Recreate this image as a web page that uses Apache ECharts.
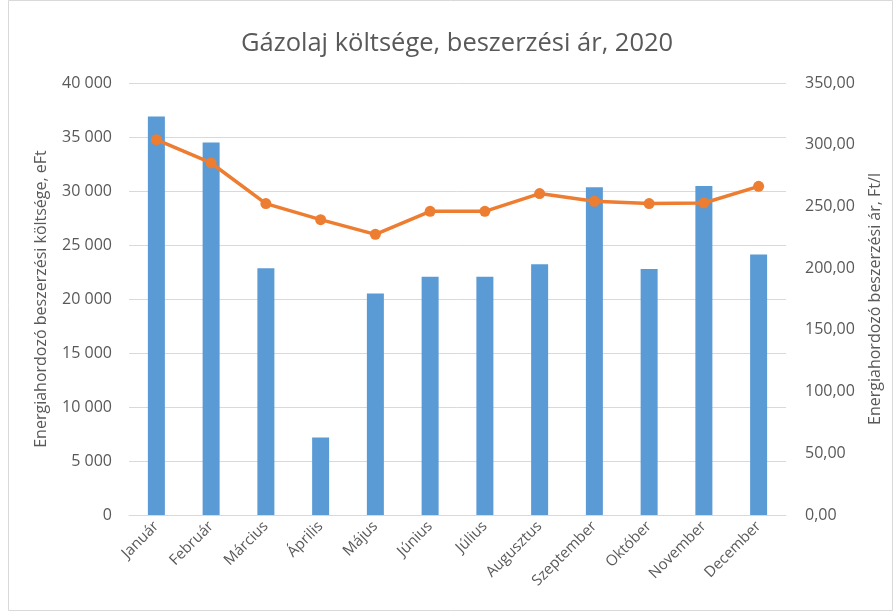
<!DOCTYPE html>
<html>
<head>
<meta charset="utf-8">
<script src="https://cdn.jsdelivr.net/npm/echarts@6/dist/echarts.min.js"></script>
<style>
  html, body { margin: 0; padding: 0; background: #fff; }
  #chart { width: 894px; height: 612px; }
</style>
</head>
<body>
<div id="chart"></div>
<script>
// honapok
let honapok = ['Január','Február','Március','Április','Május','Június','Július','Augusztus','Szeptember','Október','November','December']
// koltseg, eFt (bal tengely)
let koltseg = [36900, 34480, 22850, 7170, 20500, 22070, 22070, 23210, 30340, 22780, 30460, 24110]
// beszerzesi ar, Ft/l (jobb tengely)
let ar = [304.1, 285.2, 252.3, 239.3, 227.4, 246.0, 246.0, 260.4, 254.2, 252.3, 252.8, 266.3]

let betu = '"Open Sans", "Noto Sans", sans-serif'
let szurke = '#595959'

let chart = echarts.init(document.getElementById('chart'))

function ezres(v) {
  return String(v).replace(/\B(?=(\d{3})+(?!\d))/g, ' ')
}

let option = {
  animation: false,
  textStyle: { fontFamily: betu },
  title: {
    text: 'Gázolaj költsége, beszerzési ár, 2020',
    left: 236,
    top: 26,
    textStyle: { fontFamily: betu, fontSize: 25.5, fontWeight: 'normal', color: szurke }
  },
  graphic: [
    {
      type: 'rect',
      shape: { x: 8.5, y: 0.5, width: 884, height: 610 },
      style: { fill: 'none', stroke: '#D9D9D9', lineWidth: 1 },
      silent: true
    }
  ],
  grid: { left: 129, right: 108, top: 83, bottom: 97 },
  xAxis: {
    type: 'category',
    data: honapok,
    axisLine: { lineStyle: { color: '#D9D9D9', width: 1 } },
    axisTick: { show: false },
    axisLabel: { rotate: 45, color: szurke, fontSize: 15, margin: 9, interval: 0 }
  },
  yAxis: [
    {
      type: 'value',
      min: 0, max: 40000, interval: 5000,
      name: 'Energiahordozó beszerzési költsége, eFt',
      nameLocation: 'middle',
      nameGap: 80,
      nameTextStyle: { color: szurke, fontSize: 16 },
      axisLine: { show: false },
      axisTick: { show: false },
      axisLabel: { color: szurke, fontSize: 16, margin: 17, formatter: ezres },
      splitLine: { lineStyle: { color: '#D9D9D9', width: 1 } }
    },
    {
      type: 'value',
      min: 0, max: 350, interval: 50,
      name: 'Energiahordozó beszerzési ár, Ft/l',
      nameLocation: 'middle',
      nameGap: 81,
      nameTextStyle: { color: szurke, fontSize: 16 },
      axisLine: { show: false },
      axisTick: { show: false },
      axisLabel: {
        color: szurke, fontSize: 16, margin: 19,
        formatter: function (v) { return v.toFixed(2).replace('.', ',') }
      },
      splitLine: { show: false }
    }
  ],
  series: [
    {
      name: 'költség',
      type: 'bar',
      yAxisIndex: 0,
      barWidth: 17,
      itemStyle: { color: '#5B9BD5' },
      data: koltseg
    },
    {
      name: 'ár',
      type: 'line',
      yAxisIndex: 1,
      symbol: 'circle',
      symbolSize: 11,
      lineStyle: { color: '#ED7D31', width: 3.5 },
      itemStyle: { color: '#ED7D31' },
      data: ar
    }
  ]
}

chart.setOption(option)
</script>
</body>
</html>
